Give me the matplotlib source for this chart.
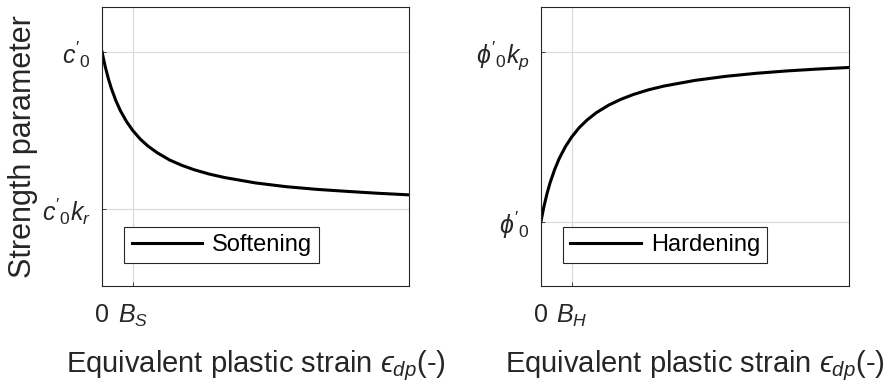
import matplotlib
matplotlib.use('Agg')
import matplotlib.pyplot as plt

plt.rcParams['font.family'] = ['Liberation Sans', 'DejaVu Sans']
plt.rcParams['mathtext.fontset'] = 'custom'
plt.rcParams['mathtext.rm'] = 'Liberation Sans'
plt.rcParams['mathtext.it'] = 'Liberation Sans:italic'
plt.rcParams['mathtext.bf'] = 'Liberation Sans:bold'

# plastic strain, in units of B (B_S for softening, B_H for hardening)
strain = [0, 0.1, 0.2, 0.3, 0.45, 0.6, 0.8, 1.0, 1.25, 1.5, 1.8, 2.2,
          2.6, 3.0, 3.5, 4, 5, 6, 7, 8, 9, 10]
# cohesion / c0'  (softening towards k_r = 0.5)
softening = [1.0, 0.955, 0.917, 0.885, 0.845, 0.8125, 0.778, 0.75, 0.722,
             0.70, 0.679, 0.656, 0.639, 0.625, 0.611, 0.60, 0.583, 0.571,
             0.5625, 0.556, 0.55, 0.545]
# friction angle / phi0'  (hardening towards k_p = 2)
hardening = [1.0, 1.091, 1.167, 1.231, 1.31, 1.375, 1.444, 1.5, 1.556,
             1.6, 1.643, 1.6875, 1.722, 1.75, 1.778, 1.8, 1.833, 1.857,
             1.875, 1.889, 1.9, 1.909]

soft_ticks = [0.5, 1.0]
soft_labels = [r"$c'_0k_r$", r"$c'_0$"]
hard_ticks = [1.0, 2.0]
hard_labels = [r"$\phi'_0$", r"$\phi'_0k_p$"]
x_ticks = [0, 1]
soft_xlabels = ['0', r'$B_S$']
hard_xlabels = ['0', r'$B_H$']

txt = '#262626'
fig = plt.figure(figsize=(8.91, 3.87), dpi=100)
ax1 = fig.add_axes([0.1145, 0.261, 0.3446, 0.721])
ax2 = fig.add_axes([0.607, 0.261, 0.3457, 0.721])

panels = [
    (ax1, softening, 'Softening', soft_ticks, soft_labels, soft_xlabels, (0.255, 1.143)),
    (ax2, hardening, 'Hardening', hard_ticks, hard_labels, hard_xlabels, (0.624, 2.265)),
]

for ax, vals, name, yt, ylab, xlab, ylim in panels:
    ax.plot(strain, vals, color='black', lw=2.2, label=name)
    ax.set_xlim(0, 10)
    ax.set_ylim(*ylim)
    ax.set_xticks(x_ticks)
    ax.set_xticklabels(xlab)
    ax.set_yticks(yt)
    ax.set_yticklabels(ylab)
    ax.grid(True, color='#d9d9d9', lw=0.8)
    ax.tick_params(direction='in', length=3, width=0.6, colors=txt,
                   labelsize=18, pad=8)
    ax.tick_params(axis='x', pad=12)
    for s in ax.spines.values():
        s.set_color(txt)
        s.set_linewidth(0.8)
    ax.set_xlabel('Equivalent plastic strain $\u03f5_{dp}$(-)', fontsize=21,
                  color=txt)
    ax.xaxis.set_label_coords(0.5, -0.225)
    leg = ax.legend(loc='lower left', bbox_to_anchor=(0.073, 0.082),
                    borderaxespad=0, fontsize=17, fancybox=False,
                    edgecolor=txt, handlelength=3.0, framealpha=1,
                    borderpad=0.3, handletextpad=0.4)
    leg.get_frame().set_linewidth(0.8)

ax1.set_ylabel('Strength parameter', fontsize=22, color=txt)
ax1.yaxis.set_label_coords(-0.21, 0.5)

fig.savefig('out.png', dpi=100)
